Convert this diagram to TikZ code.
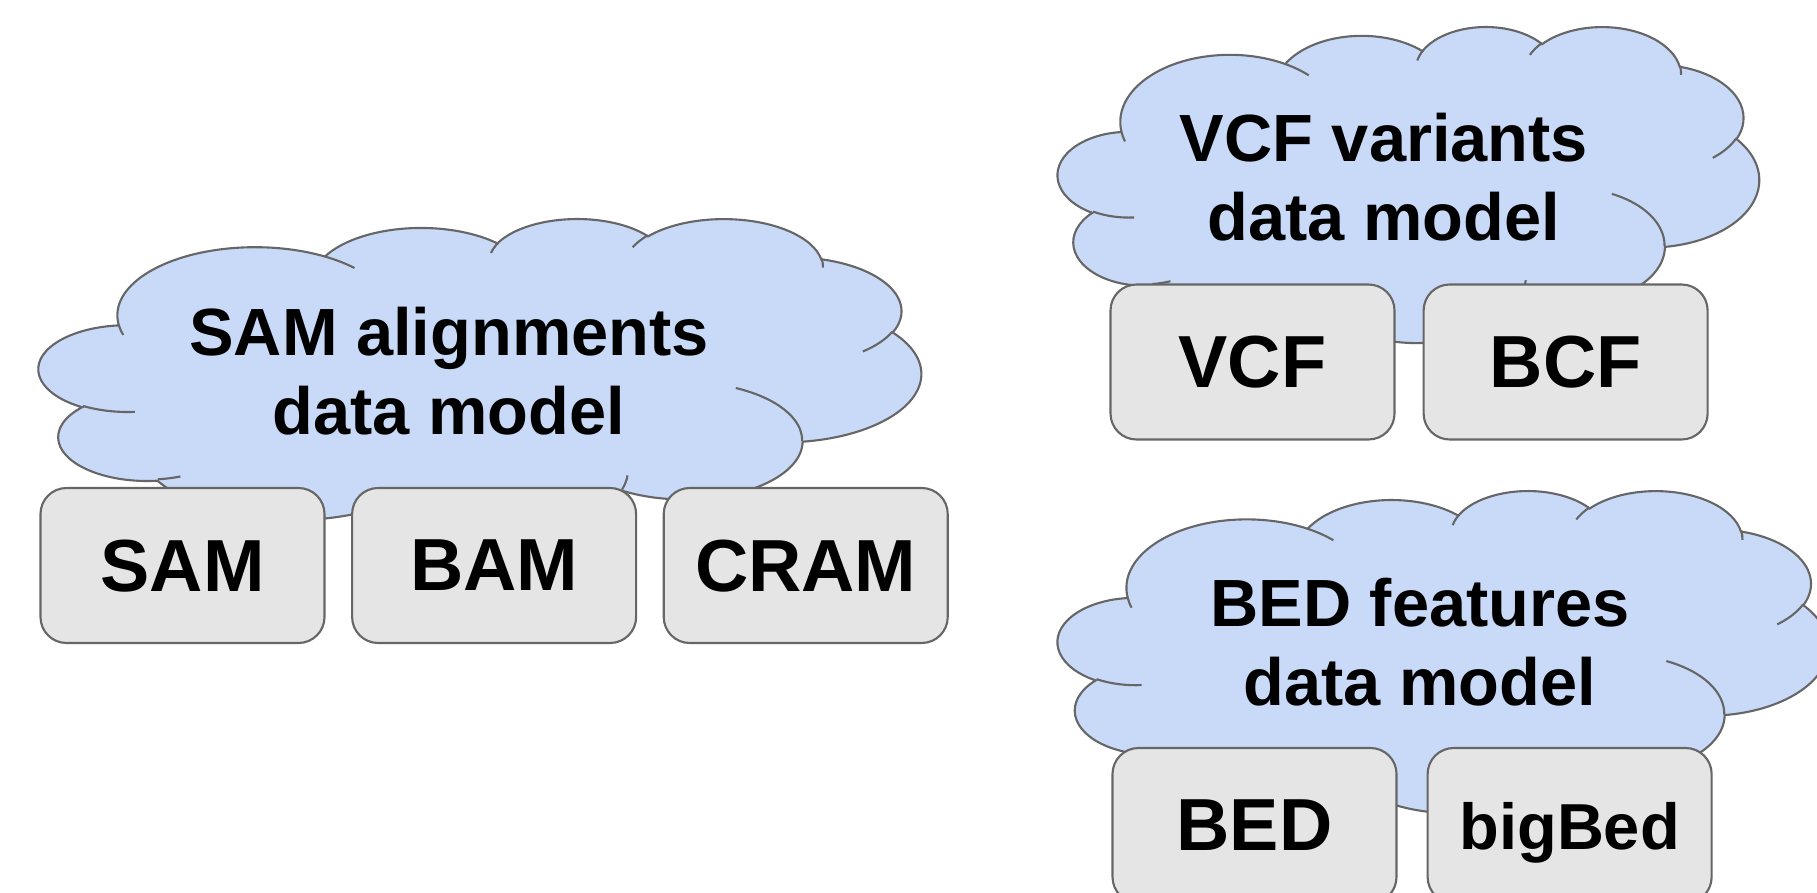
\documentclass[tikz,border=0pt]{standalone}
\usepackage{fontspec}
\setmainfont{Liberation Sans}
\usepackage{tikz}
\usetikzlibrary{positioning}

\definecolor{cloudblue}{HTML}{C9DAF8}
\definecolor{boxgray}{HTML}{E5E5E5}
\definecolor{edgegray}{HTML}{666666}

\newcommand\cloudarc[4]{%
  \pgfextra{%
    \pgfmathsetmacro\arcA{atan2(#1*sin(#3),#2*cos(#3))}%
    \pgfmathsetmacro\arcB{atan2(#1*sin(#3+#4),#2*cos(#3+#4))}%
    \pgfmathsetmacro\arcD{mod(\arcB-\arcA+720,360)}%
  }%
  arc[start angle=\arcA, delta angle=\arcD, x radius=#1, y radius=#2]}

\newcommand\datacloud[4]{%
  \begin{scope}[shift={(#1,#2)}, x=1mm, y=1mm, xscale=#3/4320, yscale=-#4/4320]
    \draw[cloudedge, fill=cloudblue] (39.00,143.70)
      \cloudarc{67.53}{91.90}{-190.4875}{123.7805}
      \cloudarc{53.33}{72.67}{-144.1024}{89.9452}
      \cloudarc{43.65}{59.45}{-145.8079}{99.7230}
      \cloudarc{48.57}{65.95}{-130.9861}{117.2417}
      \cloudarc{53.33}{72.73}{-78.7089}{109.0269}
      \cloudarc{67.75}{92.20}{-46.2673}{130.2690}
      \cloudarc{57.85}{78.67}{0.6250}{114.0333}
      \cloudarc{67.52}{92.15}{22.4516}{115.1726}
      \cloudarc{77.20}{105.43}{66.2426}{75.7110}
      \cloudarc{43.60}{59.18}{-274.9421}{146.7356}
      \cloudarc{43.45}{59.45}{-246.8285}{152.5188}
      -- cycle;
    \draw[cloudedge]
      (46.93,261.77) \cloudarc{43.45}{59.45}{86.742}{26.4295}
      (69.28,348.99) \cloudarc{43.60}{59.18}{73.6105}{11.4475}
      (164.78,390.90) \cloudarc{67.52}{92.15}{137.6242}{14.0811}
      (288.27,347.51) \cloudarc{67.52}{92.15}{6.4533}{15.9984}
      (341.29,229.54) \cloudarc{57.85}{78.67}{-70.2924}{70.9174}
      (417.98,153.54) \cloudarc{53.33}{72.73}{30.3180}{27.7515}
      (383.24,54.26) \cloudarc{48.57}{65.95}{-13.7443}{14.8589}
      (290.78,39.52) \cloudarc{48.57}{65.95}{-149.1815}{18.1954}
      (221.41,47.20) \cloudarc{43.65}{59.45}{-163.4943}{17.6864}
      (140.05,52.02) \cloudarc{67.53}{91.90}{-66.7070}{14}
      (41.27,157.89) \cloudarc{67.53}{91.90}{157.5}{12};
  \end{scope}}

\begin{document}
\begin{tikzpicture}[
    cloudedge/.style={draw=edgegray, line width=0.6pt},
    format/.style={draw=edgegray, line width=0.6pt, fill=boxgray, rounded corners=0.26cm,
      minimum width=2.84cm, minimum height=1.55cm, inner sep=0pt, text depth=0pt,
      font=\fontsize{21}{25}\selectfont\bfseries},
    model/.style={align=center, inner sep=0pt,
      font=\fontsize{19}{22.5}\selectfont\bfseries}]
    \useasboundingbox (0,0) rectangle (18.17,8.92);

    \datacloud{0.39}{6.74}{882}{320}
    \node[model] (sammodel) at (4.49,5.205) {SAM alignments\\data model};
    \node[format] (sam) at (1.825,3.265) {SAM};
    \node[format, right=0.255cm of sam] (bam) {BAM};
    \node[format, right=0.255cm of bam] (cram) {CRAM};

    \datacloud{10.58}{8.66}{701}{316}
    \node[model] (vcfmodel) at (13.84,7.145) {VCF variants\\data model};
    \node[format] (vcf) at (12.525,5.30) {VCF};
    \node[format, right=0.27cm of vcf] (bcf) {BCF};

    \datacloud{10.58}{4.02}{770}{322}
    \node[model] (bedmodel) at (14.20,2.5025) {BED features\\data model};
    \node[format] (bed) at (12.545,0.665) {BED};
    \node[format, right=0.29cm of bed, font=\fontsize{18.5}{22}\selectfont\bfseries] (bigbed) {bigBed};
\end{tikzpicture}
\end{document}
